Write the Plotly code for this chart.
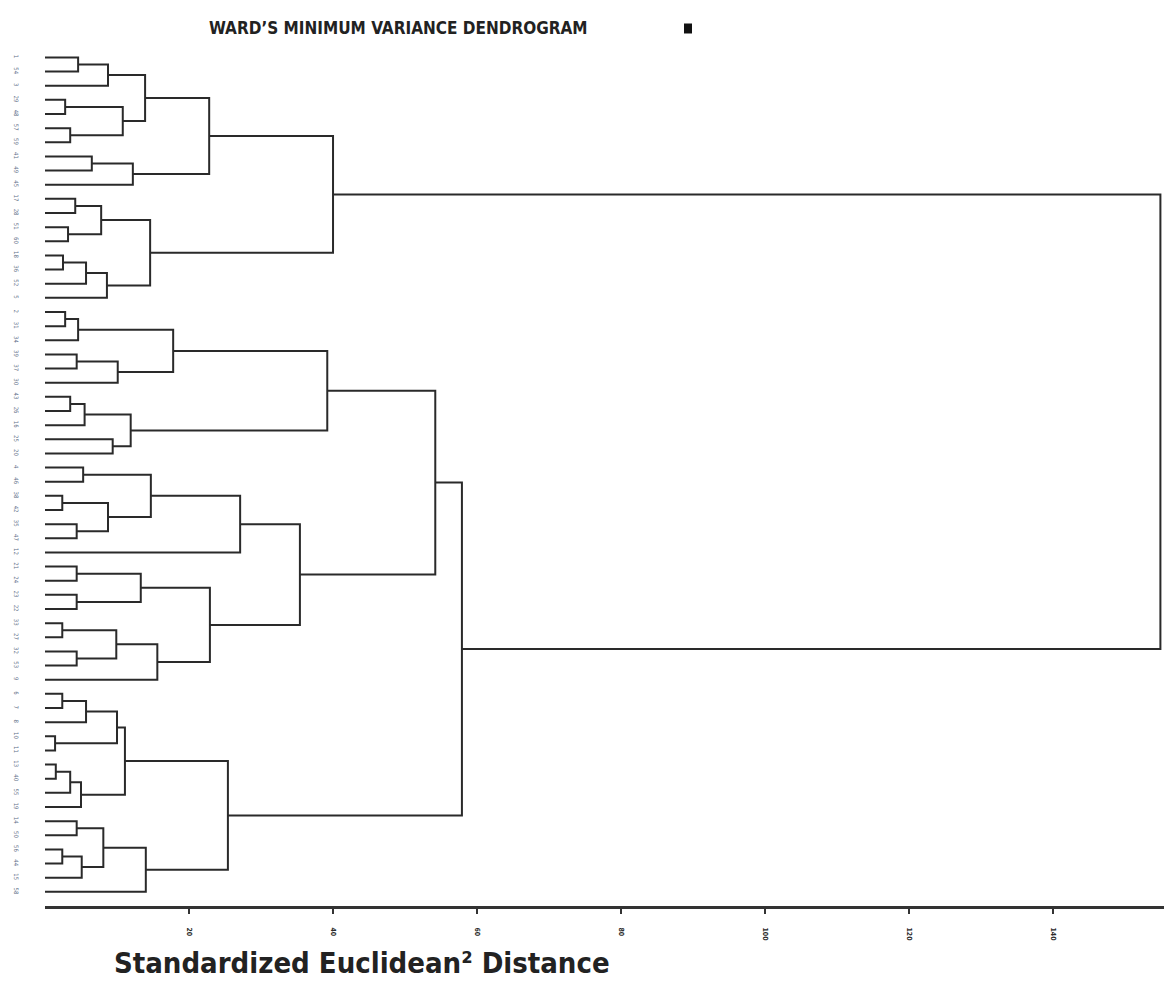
import plotly.graph_objects as go

# Leaf labels, top to bottom
leaf_labels = [1, 54, 3, 29, 48, 57, 59, 41, 49, 45, 17, 28, 51, 60, 18, 36, 52, 5,
               2, 31, 34, 39, 37, 30, 43, 26, 16, 25, 20, 4, 46, 38, 42, 35, 47, 12,
               21, 24, 23, 22, 33, 27, 32, 53, 9, 6, 7, 8, 10, 11, 13, 40, 55, 19,
               14, 50, 56, 44, 15, 58]

# Ward linkage: node ids 0..59 are leaves, 60+k is the k-th merge
merge_left = [0, 60, 3, 5, 62, 61, 7, 66, 65, 10, 12, 69, 14, 72, 73, 71, 68,
              18, 77, 21, 79, 78, 24, 82, 27, 83, 81, 29, 31, 33, 88, 87, 91,
              36, 38, 93, 40, 42, 96, 98, 95, 92, 86, 45, 103, 48, 104, 50, 107,
              108, 106, 54, 56, 112, 111, 114, 110, 102, 76]
merge_right = [1, 2, 4, 6, 63, 64, 8, 9, 67, 11, 13, 70, 15, 16, 17, 74, 75,
               19, 20, 22, 23, 80, 25, 26, 28, 84, 85, 30, 32, 34, 89, 90, 35,
               37, 39, 94, 41, 43, 97, 44, 99, 100, 101, 46, 47, 49, 105, 51, 52,
               53, 109, 55, 57, 58, 113, 59, 115, 116, 117]
merge_height = [4.6, 8.75, 2.8, 3.5, 10.8, 13.9, 6.5, 12.2, 22.8, 4.2, 3.2, 7.8,
                2.5, 5.7, 8.6, 14.6, 40.0,
                2.8, 4.6, 4.4, 10.1, 17.8, 3.5, 5.5, 9.4, 11.9, 39.2,
                5.3, 2.4, 4.4, 8.75, 14.7, 27.1,
                4.4, 4.4, 13.3, 2.4, 4.4, 9.9, 15.6, 22.9, 35.4, 54.2,
                2.4, 5.7, 1.4, 10.0, 1.5, 3.5, 5.0, 11.1,
                4.4, 2.4, 5.1, 8.1, 14.0, 25.4, 57.9, 154.9]

x_ticks = [20, 40, 60, 80, 100, 120, 140]

n_leaves = len(leaf_labels)
node_y = {i: float(i) for i in range(n_leaves)}
node_h = {i: 0.0 for i in range(n_leaves)}
xs, ys = [], []
for k, (a, b, h) in enumerate(zip(merge_left, merge_right, merge_height)):
    nid = n_leaves + k
    ya, yb = node_y[a], node_y[b]
    xs += [node_h[a], h, h, node_h[b], None]
    ys += [ya, ya, yb, yb, None]
    node_y[nid] = (ya + yb) / 2
    node_h[nid] = h

fig = go.Figure()
fig.add_trace(go.Scatter(x=xs, y=ys, mode="lines",
                         line=dict(color="#2a2a2a", width=2),
                         hoverinfo="skip", showlegend=False))

L, R, T, B = 45, 0, 14.5, 87
W, H = 1164, 993
pw, ph = W - L - R, H - T - B

def px(p):
    return (p - L) / pw

def py(q):
    return (H - B - q) / ph

FONT = "Liberation Sans Narrow, DejaVu Sans Condensed, sans-serif"

fig.update_layout(
    width=W, height=H,
    margin=dict(l=L, r=R, t=T, b=B, pad=0),
    plot_bgcolor="white", paper_bgcolor="white",
    xaxis=dict(range=[0, 155.4], tickvals=x_ticks,
               ticktext=["<b>%d</b>" % v for v in x_ticks],
               showgrid=False, zeroline=False, showline=True, linecolor="#333333",
               linewidth=3, ticks="outside", ticklen=5, tickwidth=1.5, tickcolor="#333333",
               tickangle=90, ticklabelstandoff=12,
               tickfont=dict(family=FONT, size=7, color="#2a2a2a")),
    yaxis=dict(range=[60.0, -3], tickvals=list(range(n_leaves)),
               ticktext=[str(v) for v in leaf_labels],
               showgrid=False, zeroline=False, showline=False, ticks="",
               tickangle=90, ticklabelstandoff=24,
               tickfont=dict(family=FONT, size=6, color="#5f6f88")),
    annotations=[
        dict(text="<b>WARD’S MINIMUM VARIANCE DENDROGRAM</b>", xref="paper", yref="paper",
             x=px(398), y=py(28), showarrow=False, xanchor="center", yanchor="middle",
             font=dict(family=FONT, size=17, color="#222222")),
        dict(text="<b>Standardized Euclidean² Distance</b>", xref="paper", yref="paper",
             x=px(362), y=py(963), showarrow=False, xanchor="center", yanchor="middle",
             font=dict(family=FONT, size=29, color="#222222")),
    ],
    shapes=[dict(type="rect", xref="paper", yref="paper",
                 x0=px(684), x1=px(692), y0=py(33), y1=py(23),
                 fillcolor="#111111", line=dict(width=0))],
)

fig.write_html("out.html", config={"displayModeBar": False},
               post_script="document.body.style.margin='0';document.body.style.overflow='hidden';")
